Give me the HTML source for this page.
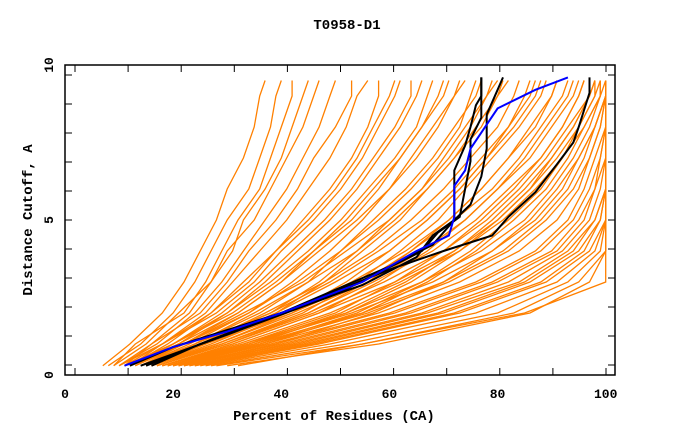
<!DOCTYPE html>
<html><head><meta charset="utf-8"><style>
html,body{margin:0;padding:0;background:#fff}
svg{display:block}
text{font-family:"Liberation Mono",monospace;font-weight:bold;fill:#000}
</style></head><body>
<svg id="chart" width="680" height="440" viewBox="0 0 680 440">
<text x="347" y="29" text-anchor="middle" font-size="14">T0958-D1</text>
<g id="series"></g>
<rect x="65" y="65" width="550" height="310" fill="none" stroke="#000" stroke-width="1.5"/>
<g id="axes"></g>
<text x="334" y="420" text-anchor="middle" font-size="14">Percent of Residues (CA)</text>
<text transform="translate(32,220) rotate(-90)" text-anchor="middle" font-size="14">Distance Cutoff, A</text>
</svg>
<script>
const cutoffs=[0.3,1,2,3,4,5,6,7,8,9,9.5];
const orangeCurves=[
[7,12,18,22,25,28,30,33,35,36,37],
[8,14,20,24,27,30,34,36,38,39,40],
[9,13,22,26,29,32,36,38,40,42,42],
[9,15,21,27,31,33,37,40,42,44,45],
[10,16,23,27,30,35,38,41,44,46,47],
[10,17,24,29,33,37,41,44,47,49,50],
[11,16,25,30,34,39,43,46,50,53,53],
[11,18,26,31,36,41,45,49,52,54,56],
[12,19,27,33,39,44,49,53,56,58,58],
[12,18,28,35,40,46,51,55,58,61,62],
[12,20,29,36,42,48,53,57,61,64,64],
[13,21,30,38,45,51,56,61,65,67,68],
[13,20,31,39,46,53,58,62,66,69,70],
[13,22,32,40,47,54,60,65,69,72,73],
[14,23,34,43,51,58,64,69,73,75,76],
[14,22,33,44,52,60,66,71,75,78,79],
[14,24,35,45,54,61,67,72,76,80,81],
[15,25,37,48,57,64,70,75,80,83,84],
[15,24,38,49,58,66,72,77,82,85,86],
[15,26,39,50,60,67,73,78,83,87,88],
[16,27,41,53,63,71,77,82,87,90,91],
[16,26,42,55,64,72,79,84,88,92,93],
[16,28,43,56,66,74,80,86,90,94,95],
[17,29,45,57,68,76,82,88,92,95,96],
[17,30,46,59,70,78,84,89,93,97,97],
[18,31,47,61,72,80,86,91,95,98,98],
[18,32,49,62,73,81,87,92,96,99,99],
[10,18,27,34,39,45,50,54,57,60,61],
[11,20,30,37,43,49,54,58,62,65,66],
[12,21,32,40,46,52,57,62,66,70,71],
[14,24,36,45,51,57,63,68,72,76,77],
[15,26,39,48,55,62,67,72,77,80,82],
[16,28,42,52,60,67,73,78,82,86,87],
[17,30,45,56,64,71,77,82,86,90,91],
[18,31,47,58,67,74,80,85,89,93,94],
[19,33,50,61,70,77,83,88,92,95,96],
[20,35,52,64,73,80,86,90,94,97,98],
[13,22,34,42,49,55,60,64,68,72,74],
[14,25,38,47,54,60,66,70,74,78,80],
[16,29,44,54,62,69,74,79,84,88,89],
[19,34,51,63,72,79,85,90,94,97,98],
[21,37,55,67,76,83,89,93,96,99,99],
[22,39,57,70,79,86,91,95,98,100,100],
[20,36,54,66,75,82,88,92,95,98,99],
[18,33,52,66,77,85,90,94,97,99,100],
[19,34,53,68,79,87,92,95,98,100,100],
[19,35,55,70,81,88,93,96,98,100,100],
[20,36,56,71,82,89,94,97,99,100,100],
[20,37,58,73,84,91,95,97,99,100,100],
[20,38,60,76,87,93,96,98,100,100,100],
[21,39,61,77,88,94,97,99,100,100,100],
[21,40,63,79,90,95,98,99,100,100,100],
[22,41,64,80,91,96,98,100,100,100,100],
[22,42,66,82,92,97,99,100,100,100,100],
[23,43,67,84,93,98,100,100,100,100,100],
[23,44,69,85,94,98,100,100,100,100,100],
[24,45,70,86,95,99,100,100,100,100,100],
[24,46,72,88,96,99,100,100,100,100,100],
[25,47,73,89,97,100,100,100,100,100,100],
[26,49,76,91,98,100,100,100,100,100,100],
[27,52,80,93,99,100,100,100,100,100,100],
[28,55,83,95,100,100,100,100,100,100,100],
[30,58,86,97,100,100,100,100,100,100,100],
[32,55,85,100,100,100,100,100,100,100,100]
];
const blueX=[11,20,30,40,55,65,71,72,72,74,75,80,87,93];
const blueY=[0.3,0.9,1.4,2.0,3.0,4.0,4.5,5.1,6.1,6.6,7.3,8.6,9.2,9.6];
const black1X=[12,20,40,55,65,68,72,72,73,74,75,76,77,77];
const black1Y=[0.3,0.9,2.0,2.9,3.8,4.5,5.0,6.6,7.0,7.4,8.0,8.7,9.0,9.6];
const black2X=[15,25,40,60,68,70,72,75,77,78,78,80,81];
const black2Y=[0.3,1.0,2.0,3.5,4.2,4.6,5.0,5.5,6.4,7.3,8.4,9.2,9.6];
const black3X=[14,30,50,66,69,73,74,75,75,77,77];
const black3Y=[0.3,1.3,2.6,4.0,4.6,5.1,6.0,6.9,7.6,8.3,9.6];
const black4X=[16,25,40,60,70,79,82,87,91,94,95,97,97];
const black4Y=[0.3,1.0,2.0,3.4,4.0,4.5,5.1,5.9,6.8,7.5,8.0,9.1,9.6];
const xTickLabels=[0,20,40,60,80,100];
const yTickLabels=[0,5,10];

const NS="http://www.w3.org/2000/svg";
const sx=v=>65+v*5.407;
const sy=v=>375-v*31;
const ser=document.getElementById('series');
function line(xs,ys,color,w,name){
  const p=document.createElementNS(NS,'polyline');
  p.setAttribute('points',xs.map((x,i)=>sx(x).toFixed(1)+','+sy(ys[i]).toFixed(1)).join(' '));
  p.setAttribute('fill','none');
  p.setAttribute('stroke',color);
  p.setAttribute('stroke-width',w);
  
  
  ser.appendChild(p);
}
orangeCurves.forEach(c=>line(c,cutoffs,'#ff8000',1.3,'orange-curve'));
line(black1X,black1Y,'#000',2,'black-curve-1');
line(black2X,black2Y,'#000',2,'black-curve-2');
line(black3X,black3Y,'#000',2,'black-curve-3');
line(black4X,black4Y,'#000',2,'black-curve-4');
line(blueX,blueY,'#0000ff',2,'blue-curve');

const ax=document.getElementById('axes');
function tick(x1,y1,x2,y2){
  const l=document.createElementNS(NS,'line');
  l.setAttribute('x1',x1);l.setAttribute('y1',y1);l.setAttribute('x2',x2);l.setAttribute('y2',y2);
  l.setAttribute('stroke','#000');l.setAttribute('stroke-width','1');
  
  
  ax.appendChild(l);
}
for(let k=0;k<11;k++){const x=606-53.1*k;tick(x,65,x,72);tick(x,375,x,368);}
for(let k=-5;k<=5;k++){const y=220+29*k;if(y>66&&y<375){tick(65,y,72,y);tick(615,y,608,y);}}
xTickLabels.forEach(v=>{
  const e=document.createElementNS(NS,'text');
  e.setAttribute('x',sx(v));e.setAttribute('y',398);e.setAttribute('text-anchor','middle');e.setAttribute('font-size','13');
  e.textContent=String(v);
  
  
  ax.appendChild(e);
});
yTickLabels.forEach(v=>{
  const e=document.createElementNS(NS,'text');
  const y=v===10?65:sy(v);
  e.setAttribute('transform','translate(53,'+y+') rotate(-90)');
  e.setAttribute('text-anchor','middle');e.setAttribute('font-size','13');
  e.textContent=String(v);
  
  
  ax.appendChild(e);
});
</script>
</body></html>
